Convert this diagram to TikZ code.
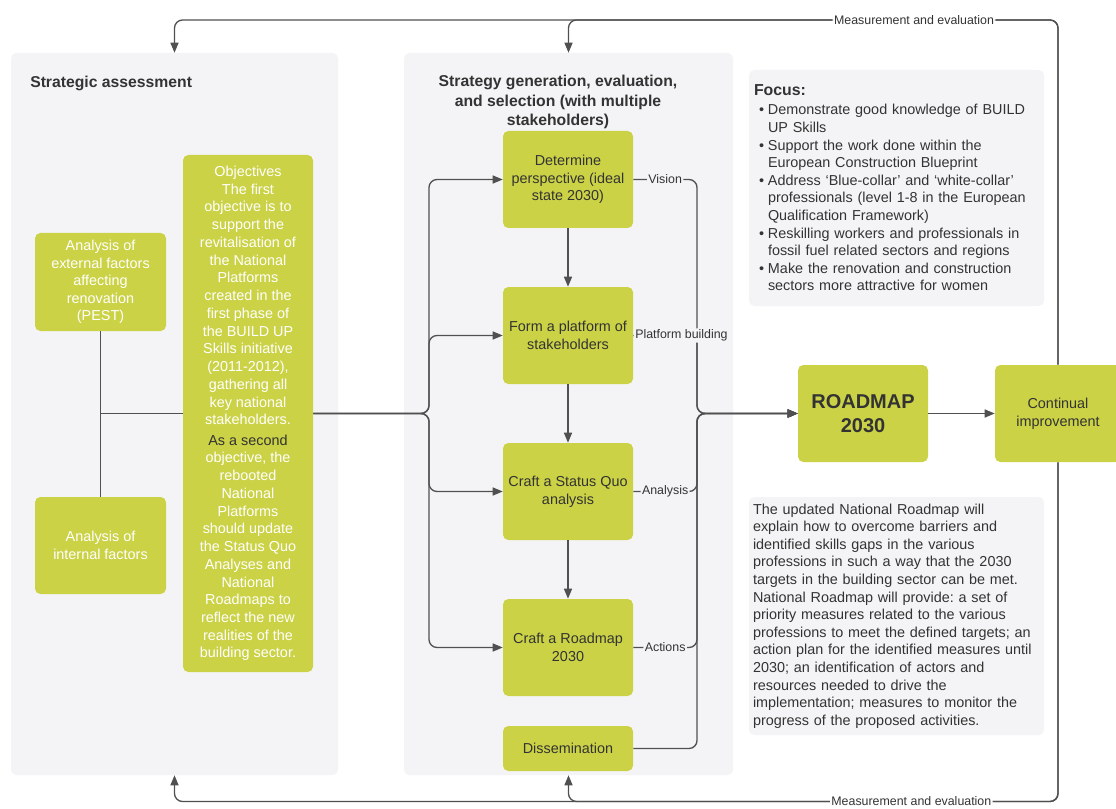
\documentclass[tikz,border=0pt]{standalone}
\usepackage{fontspec}
\setmainfont{Liberation Sans}
\usetikzlibrary{arrows.meta,calc}
\definecolor{grn}{RGB}{203,210,70}
\definecolor{pnl}{RGB}{244,244,246}
\definecolor{ink}{RGB}{51,51,51}
\definecolor{wirec}{RGB}{80,80,80}
\newcommand\bul{\hspace*{3.75pt}\makebox[6.75pt][l]{\textbullet}}
\newcommand\cnt{\hspace*{10.5pt}}
\frenchspacing
\begin{document}
\begin{tikzpicture}[x=0.75pt,y=-0.75pt,
  every node/.style={font=\fontsize{10.8}{13.2}\selectfont, text=ink},
  panel/.style 2 args={fill=pnl, rounded corners=4, minimum width=#1*0.75pt, minimum height=#2*0.75pt, inner sep=0pt},
  gbox/.style 2 args={fill=grn, rounded corners=4, minimum width=#1*0.75pt, minimum height=#2*0.75pt, inner sep=1pt, align=center},
  wire/.style={draw=wirec, line width=1pt, rounded corners=6},
  arr/.style={wire, -{Triangle[length=7.5pt,width=6pt]}},
  lab/.style={font=\fontsize{9.3}{11}\selectfont, fill=pnl, inner sep=1pt},
  mlab/.style={font=\fontsize{9.3}{11}\selectfont, fill=white, inner sep=1pt},
  ttl/.style={font=\bfseries\fontsize{11.8}{14.3}\selectfont}
]
\useasboundingbox (0,0) rectangle (1116,809);
\fill[white] (0,0) rectangle (1116,809);

% panels
\node[panel={327}{722}] (lp) at (174.5,414) {};
\node[panel={329}{722}] (mp) at (568.5,414) {};
\node[panel={295}{236}, text width=285*0.75pt, inner xsep=3.75pt, align=left] (fp) at (896.5,188) {%
{\bfseries\fontsize{11.9}{14}\selectfont Focus:}\\[1pt]
\bul Demonstrate good knowledge of BUILD\\
\cnt UP Skills\\
\bul Support the work done within the\\
\cnt European Construction Blueprint\\
\bul Address ‘Blue-collar’ and ‘white-collar’\\
\cnt professionals (level 1-8 in the European\\
\cnt Qualification Framework)\\
\bul Reskilling workers and professionals in\\
\cnt fossil fuel related sectors and regions\\
\bul Make the renovation and construction\\
\cnt sectors more attractive for women};
\node[panel={295}{238}, text width=287*0.75pt, inner xsep=3pt, align=left] (tp) at (896.5,616) {%
The updated National Roadmap will\\
explain how to overcome barriers and\\
identified skills gaps in the various\\
professions in such a way that the 2030\\
targets in the building sector can be met.\\
National Roadmap will provide: a set of\\
priority measures related to the various\\
professions to meet the defined targets; an\\
action plan for the identified measures until\\
2030; an identification of actors and\\
resources needed to drive the\\
implementation; measures to monitor the\\
progress of the proposed activities.};

% titles
\node[ttl, anchor=west, inner sep=0pt] (ltitle) at (30,83) {Strategic assessment};
\node[ttl, align=center] (mtitle) at (558,102) {Strategy generation, evaluation,\\and selection (with multiple\\stakeholders)};

% green boxes
\node[gbox={131}{98}, text=white] (ext) at (100.5,282) {Analysis of\\external factors\\affecting\\renovation\\(PEST)};
\node[gbox={131}{97}, text=white] (int) at (100.5,545.5) {Analysis of\\internal factors};
\node[gbox={130}{517}, text=white, font=\fontsize{10.8}{13.3}\selectfont] (obj) at (248,413.5) {Objectives\\The first\\objective is to\\support the\\revitalisation of\\the National\\Platforms\\created in the\\first phase of\\the BUILD UP\\Skills initiative\\(2011-2012),\\gathering all\\key national\\stakeholders.\\[2pt]\color{ink}As a second\\objective, the\\rebooted\\National\\Platforms\\should update\\the Status Quo\\Analyses and\\National\\Roadmaps to\\reflect the new\\realities of the\\building sector.};
\node[gbox={130}{97}] (det) at (568,179.5) {Determine\\perspective (ideal\\state 2030)};
\node[gbox={130}{97}] (plat) at (568,335.5) {Form a platform of\\stakeholders};
\node[gbox={130}{97}] (sq) at (568,491.5) {Craft a Status Quo\\analysis};
\node[gbox={130}{97}] (rm) at (568,647.5) {Craft a Roadmap\\2030};
\node[gbox={130}{45}] (dis) at (568,748.5) {Dissemination};
\node[gbox={130}{97}, font=\bfseries\fontsize{15}{17.5}\selectfont] (road) at (863,413.5) {ROADMAP\\2030};
\node[gbox={126}{97}] (cont) at (1058,413.5) {Continual\\improvement};

% left connectors
\draw[wire] (ext.south) -- (int.north);
\draw[wire] (obj.west) -- (obj.west -| ext.south);
\coordinate (ls) at (429,413.5);
\foreach \t in {det,plat,sq,rm} \draw[arr] (obj.east) -- (ls) |- (\t.west);

% vertical flow
\draw[arr] (det.south) -- (plat.north);
\draw[arr] (plat.south) -- (sq.north);
\draw[arr] (sq.south) -- (rm.north);

% right merge
\coordinate (rs) at (697,413.5);
\draw[arr] (det.east) -- node[lab]{Vision} (det.east -| rs) -- (rs) -- (road.west);
\draw[arr] (plat.east) -- node[lab, anchor=west, pos=0]{Platform building} (plat.east -| rs) -- (rs) -- (road.west);
\draw[arr] (sq.east) -- node[lab]{Analysis} (sq.east -| rs) -- (rs) -- (road.west);
\draw[arr] (rm.east) -- node[lab]{Actions} (rm.east -| rs) -- (rs) -- (road.west);
\draw[arr] (dis.east) -- (dis.east -| rs) -- (rs) -- (road.west);
\draw[arr] (road.east) -- (cont.west);

% feedback loops
\coordinate (yt) at (0,20);
\coordinate (yb) at (0,801.5);
\draw[arr] (cont.north) -- (cont.north |- yt) -- (mp.north |- yt) -- (mp.north);
\draw[arr] (cont.north) -- (cont.north |- yt) -- node[mlab, pos=0.163]{Measurement and evaluation} (lp.north |- yt) -- (lp.north);
\draw[arr] (cont.south) -- (cont.south |- yb) -- (mp.south |- yb) -- (mp.south);
\draw[arr] (cont.south) -- (cont.south |- yb) -- node[mlab, pos=0.166]{Measurement and evaluation} (lp.south |- yb) -- (lp.south);
\end{tikzpicture}
\end{document}
